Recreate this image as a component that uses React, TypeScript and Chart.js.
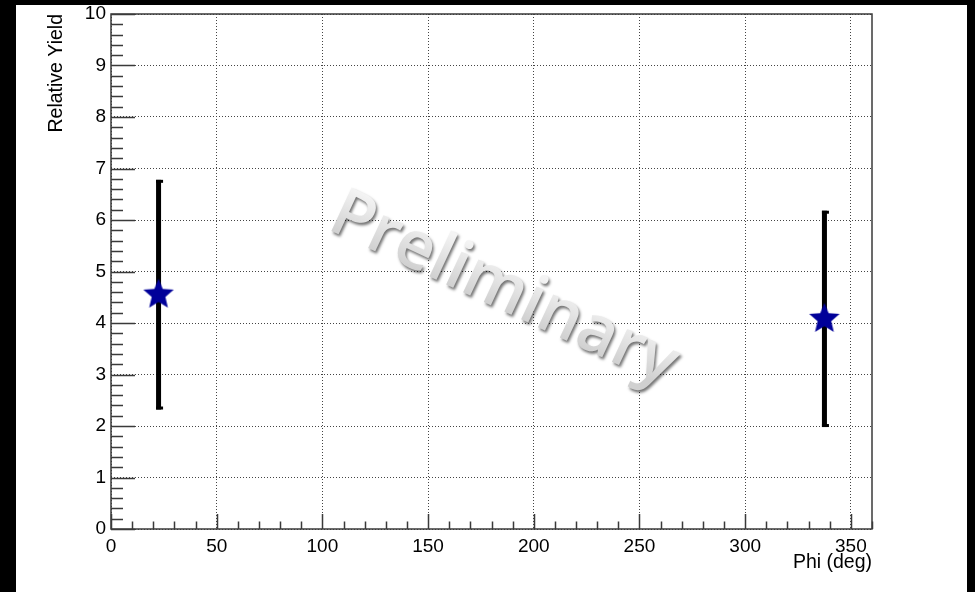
import React, { useEffect, useRef } from "react";
import { Chart, registerables } from "chart.js";

Chart.register(...registerables);

// ---- data ----
const phiValues = [22.5, 337.5];
const yieldValues = [4.55, 4.08];
const yieldErrors = [2.23, 2.1];

// ---- axes ----
const xTickValues = [0, 50, 100, 150, 200, 250, 300, 350];
const yTickValues = [0, 1, 2, 3, 4, 5, 6, 7, 8, 9, 10];
const X_MIN = 0;
const X_MAX = 360;
const Y_MIN = 0;
const Y_MAX = 10;
const X_MINOR_STEP = 10;
const Y_MINOR_COUNT = 5; // divisions per unit

const X_TITLE = "Phi (deg)";
const Y_TITLE = "Relative Yield";
const WATERMARK = "Preliminary";

const FONT = "'Liberation Sans', Arial, Helvetica, sans-serif";
const MARKER_COLOR = "#000099";
const FRAME_COLOR = "#3a3a3a";

function makeStar(r: number, color: string): HTMLCanvasElement {
  const s = Math.ceil(r * 2 + 2);
  const c = document.createElement("canvas");
  c.width = s;
  c.height = s;
  const ctx = c.getContext("2d")!;
  const cx = s / 2;
  const cy = s / 2;
  ctx.beginPath();
  for (let i = 0; i < 10; i++) {
    const rad = i % 2 === 0 ? r : r * 0.45;
    const a = -Math.PI / 2 + (i * Math.PI) / 5;
    const px = cx + rad * Math.cos(a);
    const py = cy + rad * Math.sin(a);
    if (i === 0) ctx.moveTo(px, py);
    else ctx.lineTo(px, py);
  }
  ctx.closePath();
  ctx.fillStyle = color;
  ctx.fill();
  return c;
}

const rootStylePlugin = {
  id: "rootStyle",
  beforeDatasetsDraw(chart: any) {
    const { ctx, scales } = chart;
    const x = scales.x;
    const y = scales.y;

    // watermark
    ctx.save();
    const wx = x.getPixelForValue(182);
    const wy = y.getPixelForValue(4.3);
    ctx.translate(wx, wy);
    ctx.rotate((25 * Math.PI) / 180);
    ctx.font = "600 67px 'Open Sans', 'DejaVu Sans', sans-serif";
    ctx.textAlign = "center";
    ctx.textBaseline = "alphabetic";
    ctx.shadowColor = "rgba(0,0,0,0.55)";
    ctx.shadowBlur = 3;
    ctx.shadowOffsetX = 1.5;
    ctx.shadowOffsetY = 2.5;
    const grad = ctx.createLinearGradient(0, -48, 0, 0);
    grad.addColorStop(0, "#f4f4f4");
    grad.addColorStop(1, "#d0d0d0");
    ctx.fillStyle = grad;
    ctx.fillText(WATERMARK, 0, 0);
    ctx.restore();

    // error bars
    ctx.save();
    ctx.fillStyle = "#000";
    phiValues.forEach((p, i) => {
      const px = x.getPixelForValue(p);
      const yTop = y.getPixelForValue(yieldValues[i] + yieldErrors[i]);
      const yBot = y.getPixelForValue(yieldValues[i] - yieldErrors[i]);
      ctx.fillRect(px - 2.5, yTop, 5, yBot - yTop);
      ctx.fillRect(px - 2.5, yTop, 7, 3);
      ctx.fillRect(px - 2.5, yBot - 3, 7, 3);
    });
    ctx.restore();
  },
  afterDraw(chart: any) {
    const { ctx, chartArea, scales } = chart;
    const { left, right, top, bottom } = chartArea;
    const x = scales.x;
    const y = scales.y;
    ctx.save();
    ctx.strokeStyle = FRAME_COLOR;
    ctx.lineWidth = 1.5;
    ctx.strokeRect(left, top, right - left, bottom - top);
    ctx.beginPath();
    const nx = Math.round((X_MAX - X_MIN) / X_MINOR_STEP);
    for (let i = 0; i <= nx; i++) {
      const v = X_MIN + i * X_MINOR_STEP;
      const px = Math.round(x.getPixelForValue(v)) + 0.5;
      const major = xTickValues.includes(v);
      const len = major ? 15 : 7.5;
      ctx.moveTo(px, bottom);
      ctx.lineTo(px, bottom - len);
    }
    const ny = (Y_MAX - Y_MIN) * Y_MINOR_COUNT;
    for (let i = 0; i <= ny; i++) {
      const v = Y_MIN + i / Y_MINOR_COUNT;
      const py = Math.round(y.getPixelForValue(v)) + 0.5;
      const major = i % Y_MINOR_COUNT === 0;
      const len = major ? 24 : 12;
      ctx.moveTo(left, py);
      ctx.lineTo(left + len, py);
    }
    ctx.stroke();
    ctx.restore();
  },
};

export default function App() {
  const canvasRef = useRef<HTMLCanvasElement | null>(null);

  useEffect(() => {
    const canvas = canvasRef.current;
    if (!canvas) return;
    const star = makeStar(16, MARKER_COLOR);
    const chart = new Chart(canvas, {
      type: "scatter",
      data: {
        datasets: [
          {
            label: "Yield",
            data: phiValues.map((p, i) => ({ x: p, y: yieldValues[i] })),
            pointStyle: star as any,
            pointRadius: 16,
            backgroundColor: MARKER_COLOR,
            borderColor: MARKER_COLOR,
          },
        ],
      },
      options: {
        animation: false,
        responsive: false,
        devicePixelRatio: 1,
        layout: {
          autoPadding: false,
          padding: { left: 0, top: 9, right: 95, bottom: 0 },
        },
        plugins: {
          legend: { display: false },
          tooltip: { enabled: false },
        },
        scales: {
          x: {
            type: "linear",
            min: X_MIN,
            max: X_MAX,
            afterBuildTicks: (s: any) => {
              s.ticks = xTickValues.map((v) => ({ value: v }));
            },
            afterFit: (s: any) => {
              s.height = 63;
              s.paddingLeft = 0;
              s.paddingRight = 0;
              s.paddingTop = 0;
              s.paddingBottom = 0;
            },
            grid: { color: "#444", lineWidth: 1, drawTicks: false },
            border: { display: false, dash: [1, 2] },
            ticks: {
              padding: 6,
              color: "#000",
              font: { family: FONT, size: 19 },
              maxRotation: 0,
              autoSkip: false,
            },
            title: {
              display: true,
              text: X_TITLE,
              align: "end",
              color: "#000",
              font: { family: FONT, size: 19.5 },
              padding: { top: 0, bottom: 18 },
            },
          },
          y: {
            type: "linear",
            min: Y_MIN,
            max: Y_MAX,
            afterBuildTicks: (s: any) => {
              s.ticks = yTickValues.map((v) => ({ value: v }));
            },
            afterFit: (s: any) => {
              s.width = 95;
              s.paddingLeft = 0;
              s.paddingRight = 0;
              s.paddingTop = 0;
              s.paddingBottom = 0;
            },
            grid: { color: "#444", lineWidth: 1, drawTicks: false },
            border: { display: false, dash: [1, 2] },
            ticks: {
              padding: 5,
              color: "#000",
              font: { family: FONT, size: 19 },
              autoSkip: false,
            },
            title: {
              display: true,
              text: Y_TITLE,
              align: "end",
              color: "#000",
              font: { family: FONT, size: 19.5 },
              padding: { top: 29, bottom: 0 },
            },
          },
        },
      },
      plugins: [rootStylePlugin as any],
    });
    return () => chart.destroy();
  }, []);

  return (
    <div
      style={{
        position: "fixed",
        left: 0,
        top: 0,
        width: 975,
        height: 592,
        background: "#000",
      }}
    >
      <div
        style={{
          position: "absolute",
          left: 16,
          top: 5,
          width: 951,
          height: 587,
          background: "#fff",
        }}
      >
        <canvas
          ref={canvasRef}
          width={951}
          height={587}
          style={{ display: "block", width: 951, height: 587 }}
        />
      </div>
    </div>
  );
}
